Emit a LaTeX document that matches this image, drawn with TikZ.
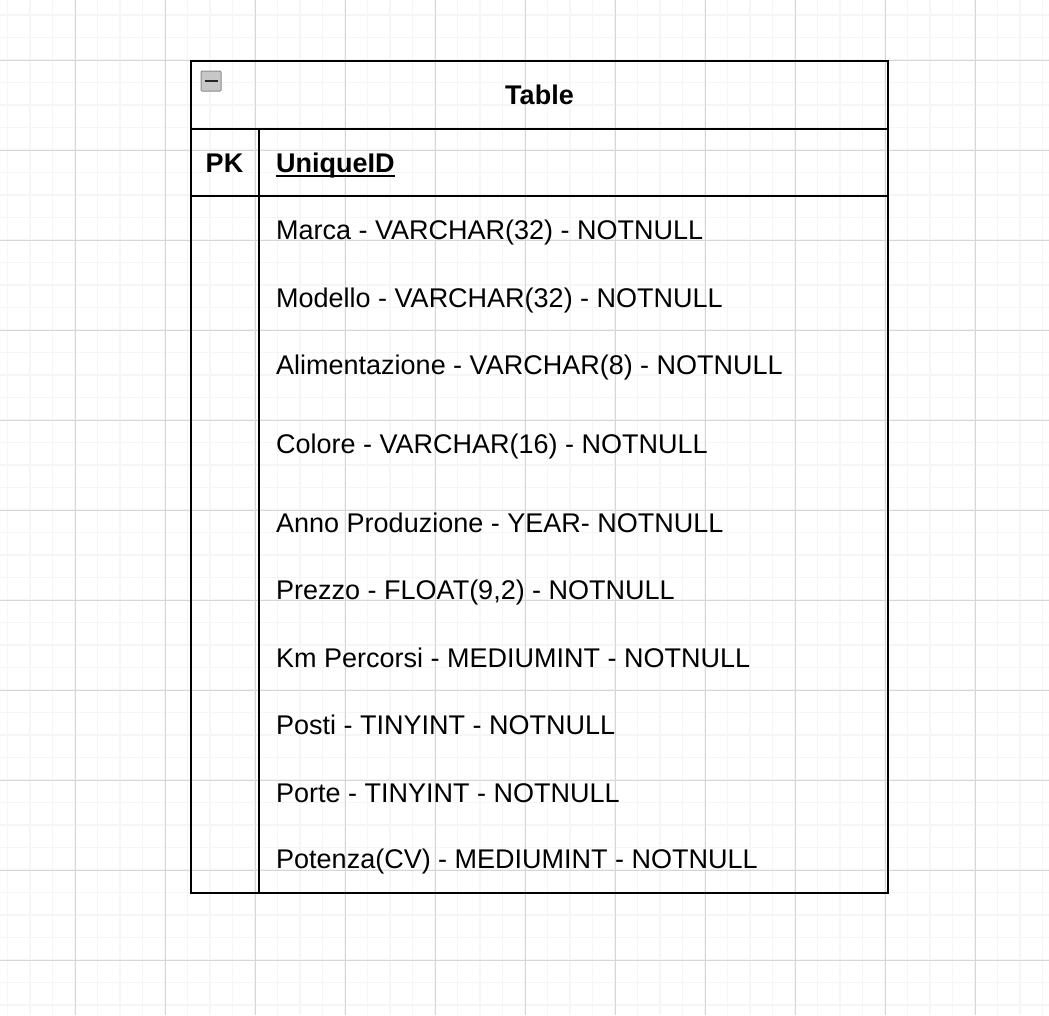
\documentclass[tikz,border=0pt]{standalone}
\usepackage{fontspec}
\setmainfont{Liberation Sans}
\begin{document}
\begin{tikzpicture}[x=1pt,y=-1pt,
  fieldtxt/.style={anchor=base west,inner sep=0pt,font=\fontsize{27}{30}\selectfont},
  boldtxt/.style={anchor=base,inner sep=0pt,font=\fontsize{27}{30}\selectfont\bfseries},
  border/.style={line width=2pt,draw=black}]
\useasboundingbox (0,0) rectangle (1049,1015);
\fill[white] (0,0) rectangle (1049,1015);
% minor grid
\foreach \i in {0,...,46} {
  \draw[line width=1.5pt,color=black!4] ({7.5+22.5*\i},0) -- ({7.5+22.5*\i},1015);
}
\foreach \i in {0,...,45} {
  \draw[line width=1.5pt,color=black!4] (0,{15+22.5*\i}) -- (1049,{15+22.5*\i});
}
% major grid
\foreach \i in {0,...,11} {
  \draw[line width=1pt,color=black!16] ({75+90*\i},0) -- ({75+90*\i},1015);
}
\foreach \i in {0,...,11} {
  \draw[line width=1pt,color=black!16] (0,{60+90*\i}) -- (1049,{60+90*\i});
}
% table
\draw[border] (191,61) rectangle (888,893);
\draw[border] (191,128.5) -- (888,128.5);
\draw[border] (191,195.7) -- (888,195.7);
\draw[border] (258.5,128.5) -- (258.5,893);
% collapse icon
\node[draw=black!45,fill=black!22,line width=1pt,rounded corners=1pt,minimum size=20pt,inner sep=0pt] (icon) at (211,81) {};
\draw[line width=2pt,black!85] ([xshift=-6.5pt]icon.center) -- ([xshift=6.5pt]icon.center);
% texts
\node[boldtxt] (title) at (539.5,104) {Table};
\node[boldtxt] (pk) at (224.5,172.3) {PK};
\node[fieldtxt,font=\fontsize{27}{30}\selectfont\bfseries] (uid) at (276,172.3) {UniqueID};
\draw[line width=2pt] ([yshift=-4pt]uid.base west) -- ([yshift=-4pt]uid.base east);
\node[fieldtxt] (f1) at (276,239.5) {Marca - VARCHAR(32) - NOTNULL};
\node[fieldtxt] (f2) at (276,307) {Modello - VARCHAR(32) - NOTNULL};
\node[fieldtxt] (f3) at (276,374) {Alimentazione - VARCHAR(8) - NOTNULL};
\node[fieldtxt] (f4) at (276,453.3) {Colore - VARCHAR(16) - NOTNULL};
\node[fieldtxt] (f5) at (276,532) {Anno Produzione - YEAR- NOTNULL};
\node[fieldtxt] (f6) at (276,599) {Prezzo - FLOAT(9,2) - NOTNULL};
\node[fieldtxt] (f7) at (276,667) {Km Percorsi - MEDIUMINT - NOTNULL};
\node[fieldtxt] (f8) at (276,734) {Posti - TINYINT - NOTNULL};
\node[fieldtxt] (f9) at (276,802) {Porte - TINYINT - NOTNULL};
\node[fieldtxt] (f10) at (276,868.3) {Potenza(CV) - MEDIUMINT - NOTNULL};
\end{tikzpicture}
\end{document}
